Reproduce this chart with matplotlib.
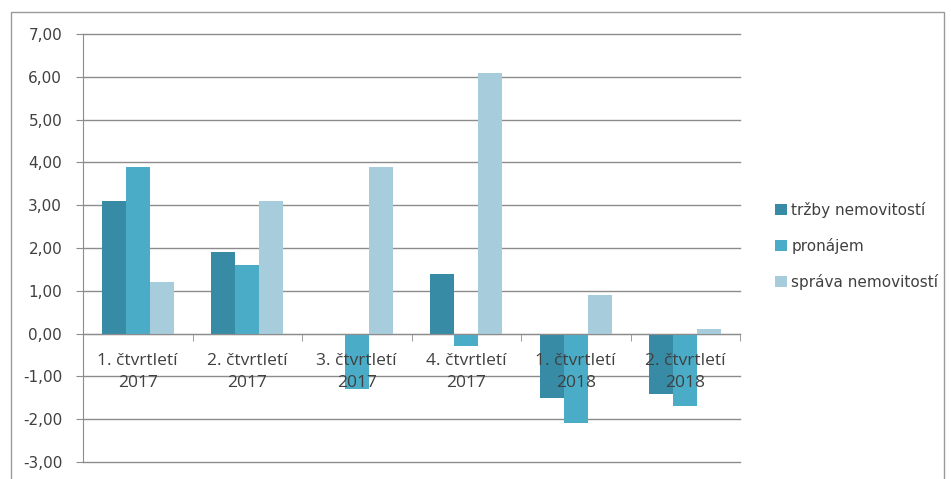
import matplotlib.pyplot as plt
import numpy as np
from matplotlib.patches import Rectangle
from matplotlib.ticker import FuncFormatter, FixedLocator

# data
categories = ['1. čtvrtletí\n2017', '2. čtvrtletí\n2017', '3. čtvrtletí\n2017',
              '4. čtvrtletí\n2017', '1. čtvrtletí\n2018', '2. čtvrtletí\n2018']
trzby = [3.1, 1.9, 0.0, 1.4, -1.5, -1.4]
pronajem = [3.9, 1.6, -1.3, -0.3, -2.1, -1.7]
sprava = [1.2, 3.1, 3.9, 6.1, 0.9, 0.1]
series_names = ['tržby nemovitostí', 'pronájem', 'správa nemovitostí']
colors = ['#388BA5', '#4AACC6', '#A7CDDC']

fig = plt.figure(figsize=(9.51, 4.79), dpi=100)
ax = fig.add_axes([83 / 951, 1 - 462 / 479, (740 - 83) / 951, (462 - 34) / 479])

# outer chart border
fig.add_artist(Rectangle((11 / 951, -0.05), (944 - 11) / 951, 1.05 - 12 / 479,
                         transform=fig.transFigure, fill=False, ec='#9a9a9a', lw=1))

x = np.arange(len(categories))
w = 0.22
for i, (vals, name, c) in enumerate(zip([trzby, pronajem, sprava], series_names, colors)):
    ax.bar(x + (i - 1) * w, vals, w, color=c, label=name, zorder=3)

ax.set_xlim(-0.5, len(categories) - 0.5)
ax.set_ylim(-3, 7)
ax.set_yticks(np.arange(-3, 8, 1))
ax.yaxis.set_major_formatter(FuncFormatter(lambda v, p: f'{v:.2f}'.replace('.', ',')))
for yv in np.arange(-3, 8, 1):
    ax.axhline(yv, color='#8c8c8c', lw=1, zorder=0, clip_on=False)

for s in ['top', 'right']:
    ax.spines[s].set_visible(False)
ax.spines['left'].set_color('#8c8c8c')
ax.spines['bottom'].set_color('#8c8c8c')
ax.spines['bottom'].set_position(('data', 0))
ax.spines['bottom'].set_zorder(4)

ax.tick_params(axis='y', length=5, color='#8c8c8c', labelsize=11, labelcolor='#404040', pad=10)
ax.set_xticks(x)
ax.set_xticklabels([])
ax.tick_params(axis='x', which='major', length=0)
ax.xaxis.set_minor_locator(FixedLocator(np.arange(-0.5, len(categories), 1)))
ax.tick_params(axis='x', which='minor', length=5, color='#8c8c8c')

# category labels drawn over the bars, just below the zero line
for xi, lab in zip(x, categories):
    ax.annotate(lab, (xi, 0), xytext=(0, -14), textcoords='offset points',
                ha='center', va='top', fontsize=12.5, family='Open Sans',
                color='#404040', linespacing=1.5, zorder=6)

ax.legend(loc='center left', bbox_to_anchor=(1.033, 0.505), frameon=False, fontsize=11,
          handlelength=0.75, handleheight=0.75, handletextpad=0.3, labelspacing=1.3,
          labelcolor='#404040')

fig.savefig('out.png', dpi=100)
